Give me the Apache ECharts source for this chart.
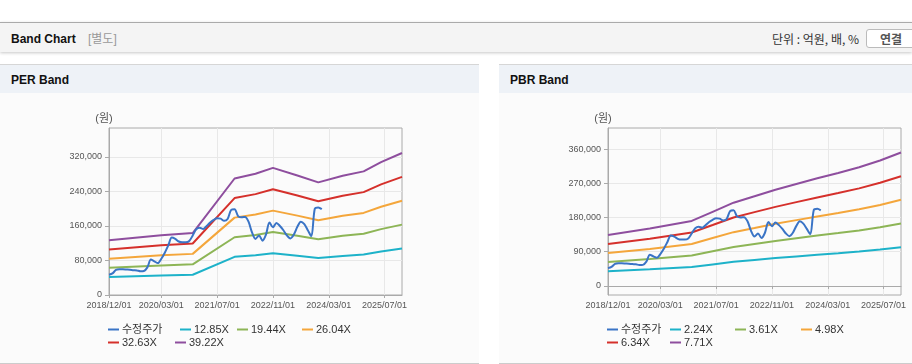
<!DOCTYPE html>
<html><head><meta charset="utf-8">
<script src="https://cdn.jsdelivr.net/npm/echarts@6/dist/echarts.min.js"></script>
<style>
html,body{margin:0;padding:0;width:912px;height:364px;overflow:hidden;background:#fff;font-family:'Liberation Sans','Noto Sans CJK KR',sans-serif;}
#hdr{position:absolute;left:0;top:22px;width:912px;height:29px;border-top:1px solid #aaa;background:#f4f4f4;box-shadow:0 1px 3px rgba(0,0,0,0.22);}
#hdr .t{position:absolute;left:11px;top:1px;line-height:30px;font-size:12px;font-weight:bold;color:#111;}
#hdr .s{position:absolute;left:88px;top:1px;line-height:30px;font-size:12px;color:#999;}
#hdr .u{position:absolute;right:53px;top:0;line-height:31px;font-size:12px;color:#333;font-family:'Noto Sans CJK KR',sans-serif;}
#hdr .b{position:absolute;left:866px;top:6px;width:56px;height:17px;border:1px solid #bbb;border-radius:3px;background:#fff;font-size:12px;font-weight:bold;color:#555;line-height:17px;text-indent:13px;font-family:'Noto Sans CJK KR',sans-serif;}
.panel{position:absolute;top:64px;height:298px;border-top:1px solid #d6d6d6;border-bottom:1px solid #ccc;background:#fbfbfb;}
.panel .ttl{height:28px;background:#eef2f7;font-size:12px;font-weight:bold;color:#111;line-height:31px;padding-left:11px;}
#chart{position:absolute;left:0;top:0;width:912px;height:364px;z-index:5;}
</style></head>
<body>
<div id="hdr"><span class="t">Band Chart</span><span class="s">[별도]</span><span class="u">단위 : 억원, 배, %</span><div class="b">연결</div></div>
<div class="panel" style="left:0;width:479px;"><div class="ttl">PER Band</div></div>
<div class="panel" style="left:499px;width:413px;"><div class="ttl">PBR Band</div></div>
<div id="chart"></div>
<script>
// monthly category axis 2018/12 .. 2025/12
const categories = [];
for (let y = 2018, m = 12; y < 2025 || (y === 2025 && m <= 12); ) {
  categories.push(y + '/' + String(m).padStart(2, '0') + '/01');
  m++; if (m > 12) { m = 1; y++; }
}
const xTickLabels = ['2018/12/01','2020/03/01','2021/07/01','2022/11/01','2024/03/01','2025/07/01'];

// 수정주가 (monthly, 2018/12 .. 2024/01)
const price = [47000,50000,58000,59500,59500,59000,58500,57500,57000,55000,
  55500,64000,82000,78000,74000,84000,98000,115000,133000,130000,
  124000,122000,122000,125000,138000,152000,156000,153000,160000,168000,
  174000,178000,177000,172000,176000,197000,199000,183000,180000,181000,
  170000,145000,130000,138000,126000,140000,168000,157000,167000,160000,
  150000,138000,131000,140000,158000,170000,164000,150000,136000,200000,
  203000,199000];

// PER band
const perDates = ['2018/12/01','2020/03/01','2020/12/01','2021/12/01','2022/06/01','2022/11/01','2023/06/01','2023/12/01','2024/07/01','2025/01/01','2025/06/01','2025/12/01'];
const per1285 = [41500,45300,47000,88500,92100,96500,90700,85500,90600,93900,100900,107800];
const per1944 = [62900,68600,71100,133800,139300,146000,137300,129400,137100,142000,152700,163100];
const per2604 = [84200,91900,95300,179300,186600,195500,183900,173300,183600,190200,204500,218500];
const per3263 = [105500,115100,119400,224600,233800,245000,230500,217200,230000,238400,256300,273700];
const per3922 = [126800,138400,143500,270000,281000,294500,277000,261000,276500,286500,308000,329000];
const perNames = ['수정주가','12.85X','19.44X','26.04X','32.63X','39.22X'];

// PBR band
const pbrDates = ['2018/12/01','2019/12/01','2020/12/01','2021/06/01','2021/12/01','2022/06/01','2022/12/01','2023/06/01','2023/12/01','2024/06/01','2024/12/01','2025/06/01','2025/12/01'];
const pbr224 = [39000,43900,49700,56600,63600,68600,73500,77800,82200,86300,90600,95900,102000];
const pbr361 = [62900,70700,80100,91300,102500,110500,118500,125500,132500,139100,146100,154500,164300];
const pbr498 = [86700,97500,110400,126000,141500,152400,163400,173100,182800,191800,201500,213100,226700];
const pbr634 = [110400,124200,140600,160300,180100,194100,208000,220400,232700,244200,256600,271400,288600];
const pbr771 = [134300,151000,171000,195000,219000,236000,253000,268000,283000,297000,312000,330000,351000];
const pbrNames = ['수정주가','2.24X','3.61X','4.98X','6.34X','7.71X'];

const perYTicks = [0,80000,160000,240000,320000];
const pbrYTicks = [0,90000,180000,270000,360000];

const colors = ['#3a74c6','#1db2c9','#8db556','#f4a63b','#d5302b','#8e4e9e'];
const FONT = "'Liberation Sans','Noto Sans CJK KR',sans-serif";

const pair = (dates, vals) => dates.map((d, i) => [d, vals[i]]);
const tickSet = new Set(xTickLabels);
const showTick = (i, v) => tickSet.has(v);

function xAxis(gi) {
  return {
    type: 'category', gridIndex: gi, data: categories, boundaryGap: false,
    axisLine: {lineStyle: {color: '#aaa'}},
    axisTick: {show: true, length: 3, interval: showTick, lineStyle: {color: '#aaa'}},
    axisLabel: {interval: showTick, fontSize: 9, color: '#555', margin: 6, fontFamily: FONT},
    splitLine: {show: true, interval: showTick, lineStyle: {color: '#e8e8e8'}}
  };
}
function yAxis(gi, min, max, ticks) {
  return {
    type: 'value', gridIndex: gi, min: min, max: max,
    name: '(원)', nameLocation: 'end', nameGap: 4,
    nameTextStyle: {fontSize: 11, color: '#555', padding: [0, 10, 0, 0], fontFamily: FONT},
    axisLine: {show: true, lineStyle: {color: '#aaa'}},
    axisTick: {show: true, length: 4, customValues: ticks, lineStyle: {color: '#aaa'}},
    axisLabel: {customValues: ticks, fontSize: 9, color: '#555', margin: 7, fontFamily: FONT},
    splitLine: {show: true, lineStyle: {color: '#e8e8e8'}}
  };
}
function line(name, gi, data, color, smooth) {
  return {
    type: 'line', name: name, xAxisIndex: gi, yAxisIndex: gi, data: data,
    showSymbol: false, symbol: 'none', smooth: smooth || false,
    lineStyle: {width: 2, color: color}, itemStyle: {color: color}, z: name === '수정주가' ? 5 : 3
  };
}
function legends(names, xs, ys) {
  return names.map((n, i) => ({
    data: [n], left: xs[i], top: ys[i], padding: 0, itemWidth: 11, itemHeight: 2, icon: 'rect',
    itemGap: 0, textStyle: {fontSize: 11, color: '#333', fontFamily: FONT, padding: [0, 0, 0, -2]}
  }));
}

const series = [
  line(perNames[1], 0, pair(perDates, per1285), colors[1]),
  line(perNames[2], 0, pair(perDates, per1944), colors[2]),
  line(perNames[3], 0, pair(perDates, per2604), colors[3]),
  line(perNames[4], 0, pair(perDates, per3263), colors[4]),
  line(perNames[5], 0, pair(perDates, per3922), colors[5]),
  line(perNames[0], 0, price, colors[0], 0.3),
  line(pbrNames[1], 1, pair(pbrDates, pbr224), colors[1]),
  line(pbrNames[2], 1, pair(pbrDates, pbr361), colors[2]),
  line(pbrNames[3], 1, pair(pbrDates, pbr498), colors[3]),
  line(pbrNames[4], 1, pair(pbrDates, pbr634), colors[4]),
  line(pbrNames[5], 1, pair(pbrDates, pbr771), colors[5]),
  line(pbrNames[0], 1, price, colors[0], 0.3)
];

const chart = echarts.init(document.getElementById('chart'), null, {renderer: 'canvas'});
chart.setOption({
  animation: false,
  backgroundColor: 'transparent',
  textStyle: {fontFamily: FONT},
  grid: [
    {left: 109, top: 128, width: 293, height: 167, show: true, borderColor: '#aaa', borderWidth: 1, backgroundColor: 'transparent'},
    {left: 608, top: 128, width: 293, height: 167, show: true, borderColor: '#aaa', borderWidth: 1, backgroundColor: 'transparent'}
  ],
  xAxis: [xAxis(0), xAxis(1)],
  yAxis: [yAxis(0, 0, 387000, perYTicks), yAxis(1, -23700, 415300, pbrYTicks)],
  legend: legends(perNames, [108, 180, 237, 302, 108, 175], [324, 324, 324, 324, 337, 337])
    .concat(legends(pbrNames, [607, 670, 735, 801, 607, 670], [324, 324, 324, 324, 337, 337])),
  series: series
});
</script>
</body></html>
